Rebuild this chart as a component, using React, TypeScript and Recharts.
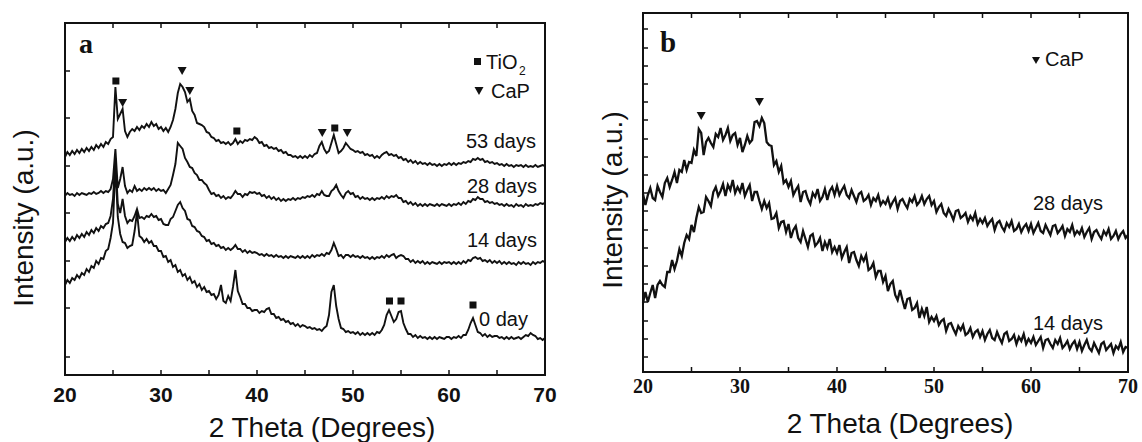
import React from "react";
import { LineChart, Line, XAxis, YAxis, ReferenceDot, ReferenceArea } from "recharts";

// 2θ grid of the scans: every 0.25° from 20° to 70°
const THETA = Array.from({ length: 201 }, (_, i) => 20 + i * 0.25);

// panel a, stacked scans (arbitrary units, offsets included)
const A_53 = [
  218, 223, 220, 224, 221, 225, 222, 226, 223, 227, 224, 228, 225, 230, 227, 231, 228, 233, 231, 236,
  238, 288, 256, 261, 266, 244, 238, 243, 246, 244, 248, 245, 249, 247, 251, 248, 253, 249, 251, 246,
  248, 244, 247, 243, 248, 255, 266, 282, 291, 288, 283, 273, 276, 264, 260, 252, 251, 250, 248, 243,
  242, 238, 237, 234, 235, 232, 233, 231, 233, 230, 232, 236, 231, 234, 232, 235, 234, 236, 235, 238,
  236, 232, 233, 229, 230, 227, 228, 226, 227, 224, 225, 222, 223, 220, 220, 218, 219, 217, 219, 217,
  219, 217, 220, 218, 221, 222, 229, 233, 226, 222, 224, 232, 240, 231, 222, 224, 227, 232, 229, 226,
  225, 223, 224, 222, 223, 220, 221, 219, 220, 217, 219, 217, 220, 222, 223, 220, 221, 219, 220, 217,
  218, 215, 216, 213, 215, 212, 214, 211, 213, 211, 212, 210, 212, 210, 211, 209, 211, 209, 211, 210,
  212, 210, 212, 210, 212, 211, 213, 212, 214, 213, 216, 215, 217, 215, 216, 213, 214, 212, 213, 211,
  212, 210, 211, 209, 211, 209, 210, 208, 210, 209, 210, 208, 210, 208, 209, 208, 210, 208, 209, 210,
  209,
];
const A_28 = [
  179, 182, 180, 181, 179, 182, 180, 182, 181, 180, 182, 181, 183, 181, 182, 184, 182, 184, 183, 186,
  196, 226, 187, 196, 208, 189, 182, 185, 183, 189, 184, 186, 184, 187, 185, 187, 185, 187, 184, 186,
  184, 185, 182, 186, 190, 200, 211, 232, 229, 226, 217, 213, 208, 207, 202, 200, 195, 195, 192, 190,
  185, 181, 182, 179, 180, 177, 179, 176, 178, 177, 180, 184, 181, 181, 178, 181, 180, 183, 182, 183,
  181, 182, 179, 180, 177, 179, 176, 178, 175, 177, 174, 176, 174, 176, 175, 177, 175, 177, 176, 178,
  177, 179, 178, 180, 178, 181, 180, 184, 180, 179, 179, 184, 186, 190, 184, 180, 177, 182, 184, 181,
  182, 178, 179, 176, 178, 176, 177, 175, 177, 175, 177, 176, 178, 176, 179, 177, 179, 178, 180, 177,
  177, 173, 174, 171, 173, 170, 172, 169, 171, 169, 171, 169, 171, 170, 169, 171, 169, 171, 170, 169,
  171, 169, 171, 170, 172, 170, 173, 171, 174, 173, 176, 175, 178, 176, 176, 173, 174, 172, 173, 171,
  172, 170, 171, 169, 171, 169, 170, 168, 171, 169, 170, 168, 171, 169, 170, 169, 171, 170, 172, 171,
  172,
];
const A_14 = [
  133, 137, 134, 138, 135, 140, 137, 141, 138, 143, 140, 145, 142, 147, 144, 149, 147, 151, 152, 159,
  176, 217, 171, 162, 176, 159, 152, 155, 154, 159, 166, 157, 158, 156, 159, 158, 161, 158, 159, 155,
  156, 151, 150, 150, 156, 158, 164, 170, 173, 167, 164, 156, 155, 149, 148, 144, 143, 139, 138, 134,
  135, 131, 132, 129, 130, 127, 128, 125, 127, 125, 127, 130, 126, 126, 123, 125, 122, 124, 122, 123,
  122, 120, 121, 119, 121, 119, 120, 118, 120, 118, 119, 117, 119, 117, 119, 118, 117, 119, 117, 119,
  117, 119, 117, 120, 118, 120, 119, 121, 119, 122, 121, 125, 132, 126, 119, 120, 117, 120, 120, 118,
  120, 118, 119, 117, 119, 117, 118, 116, 118, 116, 118, 117, 119, 117, 120, 118, 120, 121, 117, 119,
  120, 119, 116, 116, 113, 115, 112, 114, 112, 114, 111, 113, 111, 113, 112, 111, 113, 111, 113, 112,
  113, 111, 113, 111, 113, 111, 114, 112, 115, 114, 117, 118, 116, 117, 114, 115, 113, 115, 112, 114,
  112, 114, 111, 113, 111, 113, 111, 112, 110, 113, 111, 113, 111, 112, 110, 113, 111, 113, 112, 114,
  113,
];
const A_0 = [
  90, 95, 92, 97, 95, 100, 97, 102, 100, 106, 103, 109, 107, 114, 111, 117, 116, 124, 126, 137,
  152, 210, 158, 141, 133, 132, 127, 129, 130, 144, 163, 139, 137, 133, 136, 132, 134, 129, 129, 124,
  124, 118, 119, 113, 115, 108, 110, 103, 105, 99, 101, 95, 98, 92, 94, 88, 91, 85, 88, 83,
  84, 80, 81, 76, 80, 90, 74, 72, 79, 74, 88, 105, 84, 78, 71, 71, 67, 67, 64, 65,
  65, 62, 64, 63, 66, 67, 61, 61, 57, 58, 55, 56, 53, 54, 51, 52, 49, 51, 48, 50,
  49, 47, 48, 46, 47, 45, 46, 44, 47, 49, 60, 83, 90, 69, 56, 47, 46, 43, 44, 42,
  43, 41, 43, 40, 42, 40, 42, 40, 42, 40, 43, 42, 45, 50, 60, 65, 59, 53, 56, 63,
  64, 52, 46, 41, 41, 38, 40, 37, 39, 37, 38, 36, 38, 36, 38, 36, 38, 37, 36, 38,
  38, 36, 38, 37, 39, 37, 40, 40, 45, 52, 57, 50, 43, 42, 39, 41, 38, 40, 38, 39,
  39, 37, 38, 36, 38, 36, 38, 36, 37, 38, 36, 38, 40, 39, 42, 40, 39, 36, 37, 35,
  37,
];

// panel b
const B_28 = [
  178, 167, 177, 184, 174, 172, 186, 180, 175, 189, 194, 185, 192, 200, 189, 202, 200, 212, 202, 210,
  209, 222, 216, 243, 239, 217, 230, 234, 229, 225, 238, 235, 244, 232, 237, 244, 231, 237, 239, 227,
  234, 220, 227, 236, 229, 232, 250, 251, 246, 254, 249, 230, 227, 226, 207, 211, 200, 206, 189, 192,
  185, 191, 177, 182, 186, 170, 180, 181, 173, 168, 179, 175, 183, 171, 175, 183, 172, 181, 185, 177,
  186, 177, 182, 186, 177, 174, 182, 176, 170, 178, 180, 171, 173, 177, 167, 174, 171, 177, 167, 171,
  168, 174, 165, 170, 174, 163, 171, 173, 168, 164, 173, 170, 176, 167, 170, 176, 168, 173, 176, 167,
  171, 160, 165, 168, 159, 156, 163, 158, 152, 161, 162, 154, 156, 159, 150, 156, 152, 159, 148, 153,
  149, 154, 146, 150, 153, 142, 149, 151, 145, 141, 149, 145, 151, 141, 143, 148, 140, 145, 148, 141,
  148, 139, 144, 149, 141, 139, 147, 142, 137, 146, 147, 139, 142, 146, 136, 143, 140, 147, 137, 141,
  138, 144, 135, 140, 144, 133, 140, 142, 137, 133, 141, 137, 143, 133, 136, 141, 133, 138, 141, 134,
  137,
];
const B_14 = [
  69, 80, 70, 79, 87, 74, 87, 91, 87, 85, 100, 100, 112, 103, 111, 123, 116, 129, 137, 133,
  147, 140, 154, 165, 159, 160, 175, 171, 166, 180, 185, 176, 181, 188, 176, 187, 182, 192, 179, 185,
  180, 189, 176, 182, 187, 171, 180, 180, 171, 163, 171, 164, 169, 153, 154, 159, 144, 150, 151, 140,
  148, 134, 142, 146, 134, 130, 141, 133, 125, 136, 138, 126, 129, 134, 121, 130, 124, 133, 120, 125,
  119, 127, 114, 120, 125, 109, 119, 120, 112, 106, 116, 111, 117, 102, 104, 109, 95, 101, 101, 90,
  96, 81, 88, 91, 77, 72, 82, 72, 63, 73, 74, 62, 64, 69, 54, 63, 56, 65, 50, 55,
  51, 56, 47, 51, 53, 41, 48, 49, 43, 38, 46, 42, 47, 37, 39, 44, 35, 40, 42, 35,
  41, 32, 38, 42, 34, 32, 40, 34, 29, 38, 40, 31, 33, 37, 28, 35, 31, 38, 28, 33,
  29, 35, 27, 31, 35, 24, 32, 33, 28, 24, 32, 28, 34, 24, 27, 31, 23, 28, 31, 23,
  30, 21, 27, 32, 24, 21, 29, 24, 19, 28, 30, 22, 25, 28, 19, 26, 23, 30, 20, 25,
  24,
];

const X_TICKS = [20, 25, 30, 35, 40, 45, 50, 55, 60, 65, 70];
const Y_TICKS_A = [18, 67, 114, 162, 209, 257, 304];
const Y_TICKS_B = [15, 33, 51, 70, 88, 106, 124, 142, 161, 179, 197, 215, 233, 252, 270, 288, 306, 324, 343];

// phase markers above the reflections
const PEAKS_A = [
  { theta: 25.3, y: 294, phase: "TiO2" },
  { theta: 26.0, y: 272, phase: "CaP" },
  { theta: 32.2, y: 304, phase: "CaP" },
  { theta: 33.0, y: 284, phase: "CaP" },
  { theta: 37.9, y: 244, phase: "TiO2" },
  { theta: 46.8, y: 242, phase: "CaP" },
  { theta: 48.1, y: 247, phase: "TiO2" },
  { theta: 49.4, y: 242, phase: "CaP" },
  { theta: 53.8, y: 74, phase: "TiO2" },
  { theta: 55.0, y: 74, phase: "TiO2" },
  { theta: 62.5, y: 70, phase: "TiO2" },
];
const PEAKS_B = [
  { theta: 26.0, y: 256, phase: "CaP" },
  { theta: 32.0, y: 270, phase: "CaP" },
];

const rowsA = THETA.map((t, i) => ({ theta: t, d53: A_53[i], d28: A_28[i], d14: A_14[i], d0: A_0[i] }));
const rowsB = THETA.map((t, i) => ({ theta: t, d28: B_28[i], d14: B_14[i] }));

const SANS = "'Liberation Sans', Arial, sans-serif";
const SERIF = "'Liberation Serif', 'Times New Roman', serif";
const INK = "#111";

const Marker = ({ cx, cy, phase }: any) => {
  if (phase === "TiO2") {
    return <rect x={cx - 3.5} y={cy - 3.5} width={7} height={7} fill={INK} />;
  }
  return <polygon points={`${cx - 4.5},${cy - 4} ${cx + 4.5},${cy - 4} ${cx},${cy + 4}`} fill={INK} />;
};

// inward tick mark drawn at the axis position; bottom axis also gets the decade labels
const AxisTick = ({ x, y, payload, side, serif }: any) => {
  const n = 5;
  let d = "";
  if (side === "bottom") d = `M${x},${y}V${y - n}`;
  if (side === "top") d = `M${x},${y}V${y + n}`;
  if (side === "left") d = `M${x},${y}H${x + n}`;
  if (side === "right") d = `M${x},${y}H${x - n}`;
  const showLabel = side === "bottom" && payload.value % 10 === 0;
  return (
    <g>
      <path d={d} stroke={INK} strokeWidth={1.5} fill="none" />
      {showLabel && (
        <text
          x={x}
          y={y + (serif ? 21 : 27)}
          textAnchor="middle"
          fontFamily={serif ? SERIF : SANS}
          fontWeight="bold"
          fontSize={serif ? 20 : 21}
          fill={INK}
        >
          {payload.value}
        </text>
      )}
    </g>
  );
};

const axisLine = { stroke: INK, strokeWidth: 2 };

function Frame({ yMax, yTicks, serif }: { yMax: number; yTicks: number[]; serif?: boolean }) {
  const common = { tickSize: 0, tickMargin: 0, tickLine: false, axisLine, interval: 0 as const };
  return [
    <XAxis
      key="xb"
      xAxisId="b"
      dataKey="theta"
      type="number"
      domain={[20, 70]}
      ticks={X_TICKS}
      tick={<AxisTick side="bottom" serif={serif} />}
      height={serif ? 70 : 67}
      {...common}
    />,
    <XAxis
      key="xt"
      xAxisId="t"
      orientation="top"
      dataKey="theta"
      type="number"
      domain={[20, 70]}
      ticks={X_TICKS}
      tick={<AxisTick side="top" />}
      height={1}
      {...common}
    />,
    <YAxis
      key="yl"
      yAxisId="l"
      type="number"
      domain={[0, yMax]}
      ticks={yTicks}
      tick={<AxisTick side="left" />}
      width={1}
      {...common}
    />,
    <YAxis
      key="yr"
      yAxisId="r"
      orientation="right"
      type="number"
      domain={[0, yMax]}
      ticks={yTicks}
      tick={<AxisTick side="right" />}
      width={1}
      {...common}
    />,
    <ReferenceArea
      key="box"
      xAxisId="b"
      yAxisId="l"
      x1={20}
      x2={70}
      y1={0}
      y2={yMax}
      fill="none"
      fillOpacity={0}
      stroke={INK}
      strokeWidth={2}
      ifOverflow="visible"
    />,
  ];
}

const lineProps = {
  xAxisId: "b",
  yAxisId: "l",
  type: "linear" as const,
  stroke: INK,
  dot: false,
  isAnimationActive: false,
};

export default function App() {
  return (
    <div style={{ position: "absolute", left: 0, top: 0, width: 1142, height: 442, background: "#fff" }}>
      <div style={{ position: "absolute", left: 0, top: 0 }}>
        <LineChart width={560} height={442} data={rowsA} margin={{ top: 22, right: 14, left: 64, bottom: 0 }}>
          {Frame({ yMax: 352, yTicks: Y_TICKS_A })}
          <Line {...lineProps} strokeWidth={1.9} dataKey="d0" />
          <Line {...lineProps} strokeWidth={1.9} dataKey="d14" />
          <Line {...lineProps} strokeWidth={1.9} dataKey="d28" />
          <Line {...lineProps} strokeWidth={1.9} dataKey="d53" />
          {PEAKS_A.map((p, i) => (
            <ReferenceDot
              key={i}
              xAxisId="b"
              yAxisId="l"
              x={p.theta}
              y={p.y}
              r={4}
              shape={(s: any) => <Marker cx={s.cx} cy={s.cy} phase={p.phase} />}
            />
          ))}
        </LineChart>
      </div>
      <div style={{ position: "absolute", left: 580, top: 0 }}>
        <LineChart width={562} height={442} data={rowsB} margin={{ top: 12, right: 13, left: 62, bottom: 0 }}>
          {Frame({ yMax: 359, yTicks: Y_TICKS_B, serif: true })}
          <Line {...lineProps} strokeWidth={2.3} dataKey="d14" />
          <Line {...lineProps} strokeWidth={2.3} dataKey="d28" />
          {PEAKS_B.map((p, i) => (
            <ReferenceDot
              key={i}
              xAxisId="b"
              yAxisId="l"
              x={p.theta}
              y={p.y}
              r={4}
              shape={(s: any) => <Marker cx={s.cx} cy={s.cy} phase={p.phase} />}
            />
          ))}
        </LineChart>
      </div>
      <svg
        width={1142}
        height={442}
        style={{ position: "absolute", left: 0, top: 0, pointerEvents: "none" }}
        fontFamily={SANS}
        fill={INK}
      >
        {/* panel a */}
        <text x={79} y={53} fontFamily={SERIF} fontWeight="bold" fontSize={28}>a</text>
        <rect x={474} y={58} width={7} height={7} />
        <text x={486} y={69} fontSize={20}>TiO</text>
        <text x={519} y={75} fontSize={12}>2</text>
        <polygon points="474.5,87 483.5,87 479,95" />
        <text x={491} y={98} fontSize={20}>CaP</text>
        <text x={536} y={148} fontSize={20} textAnchor="end">53 days</text>
        <text x={537} y={193} fontSize={20} textAnchor="end">28 days</text>
        <text x={537} y={247} fontSize={20} textAnchor="end">14 days</text>
        <text x={479} y={326} fontSize={20}>0 day</text>
        <text transform="translate(33,218) rotate(-90)" fontSize={28} textAnchor="middle">Intensity (a.u.)</text>
        <text x={322} y={437} fontSize={28} textAnchor="middle">2 Theta (Degrees)</text>

        {/* panel b */}
        <text x={660} y={52} fontFamily={SERIF} fontWeight="bold" fontSize={29}>b</text>
        <polygon points="1032,57 1040,57 1036,64" />
        <text x={1045} y={66} fontSize={20}>CaP</text>
        <text x={1103} y={210} fontSize={20} textAnchor="end">28 days</text>
        <text x={1103} y={330} fontSize={20} textAnchor="end">14 days</text>
        <text transform="translate(622,200) rotate(-90)" fontSize={28} textAnchor="middle">Intensity (a.u.)</text>
        <text x={900} y={433} fontSize={28} textAnchor="middle">2 Theta (Degrees)</text>
      </svg>
    </div>
  );
}
